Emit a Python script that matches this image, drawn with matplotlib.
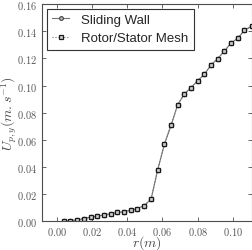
import numpy as np
import matplotlib
matplotlib.use("Agg")
from matplotlib import pyplot as plt

plt.rcParams['mathtext.fontset'] = 'cm'

# radial position (m)
r = [0.0037, 0.0075, 0.0113, 0.0152, 0.0190, 0.0229, 0.0267, 0.0305, 0.0343,
     0.0381, 0.0419, 0.0457, 0.0495, 0.0535, 0.0573, 0.0611, 0.0649, 0.0687,
     0.0725, 0.0763, 0.0801, 0.0839, 0.0877, 0.0915, 0.0953, 0.0991, 0.1029,
     0.1067, 0.1108]
# particle velocity, sliding wall
u_sliding = [0.0000, 0.0002, 0.0007, 0.0017, 0.0027, 0.0035, 0.0044, 0.0052,
             0.0062, 0.0069, 0.0079, 0.0091, 0.0113, 0.0160, 0.0379, 0.0566,
             0.0707, 0.0859, 0.0938, 0.0985, 0.1036, 0.1083, 0.1152, 0.1199,
             0.1255, 0.1314, 0.1349, 0.1408, 0.1438]
# particle velocity, rotor/stator mesh
u_rotor = list(u_sliding)

fig = plt.figure(figsize=(2.53, 2.51), dpi=100)
ax = fig.add_axes([0.167, 0.116, 0.829, 0.863])

ax.plot(r, u_sliding, color='0.45', lw=0.8, marker='o', ms=3.2,
        mfc='0.75', mec='0.25', mew=0.8, label='Sliding Wall')
ax.plot(r, u_rotor, color='0.45', lw=0.8, ls=':', marker='s', ms=3.2,
        mfc='0.8', mec='0.1', mew=0.9, label='Rotor/Stator Mesh')

ax.set_xlim(-0.0085, 0.1110)
ax.set_ylim(0, 0.16)
ax.set_xticks([0.00, 0.02, 0.04, 0.06, 0.08, 0.10])
ax.set_yticks([0.00, 0.02, 0.04, 0.06, 0.08, 0.10, 0.12, 0.14, 0.16])
ax.xaxis.set_major_formatter(matplotlib.ticker.FormatStrFormatter(r'$%.2f$'))
ax.yaxis.set_major_formatter(matplotlib.ticker.FormatStrFormatter(r'$%.2f$'))
ax.tick_params(direction='in', top=True, right=True, labelsize=7.5,
               length=3, width=0.6, colors='0.3', labelcolor='0.35')
ax.tick_params(axis='x', pad=3)
for s in ax.spines.values():
    s.set_color('0.3')
    s.set_linewidth(0.8)

ax.set_xlabel(r'$r(m)$', fontsize=10, color='0.3')
ax.xaxis.set_label_coords(0.5, -0.058)
ax.set_ylabel(r'$U_{p,y}(m{.}s^{-1})$', fontsize=10, color='0.3')
ax.yaxis.set_label_coords(-0.112, 0.5)

leg = ax.legend(loc='upper left', prop={'family': 'Liberation Sans', 'size': 9.5},
                fancybox=False, framealpha=1, edgecolor='0.2',
                handlelength=1.3, borderpad=0.4, labelspacing=0.45,
                handletextpad=0.9, borderaxespad=0.0, markerscale=0.85,
                bbox_to_anchor=(0.022, 0.98))
leg.get_frame().set_linewidth(0.8)
for t in leg.get_texts():
    t.set_color('0.15')

fig.savefig('out.png', dpi=100)
